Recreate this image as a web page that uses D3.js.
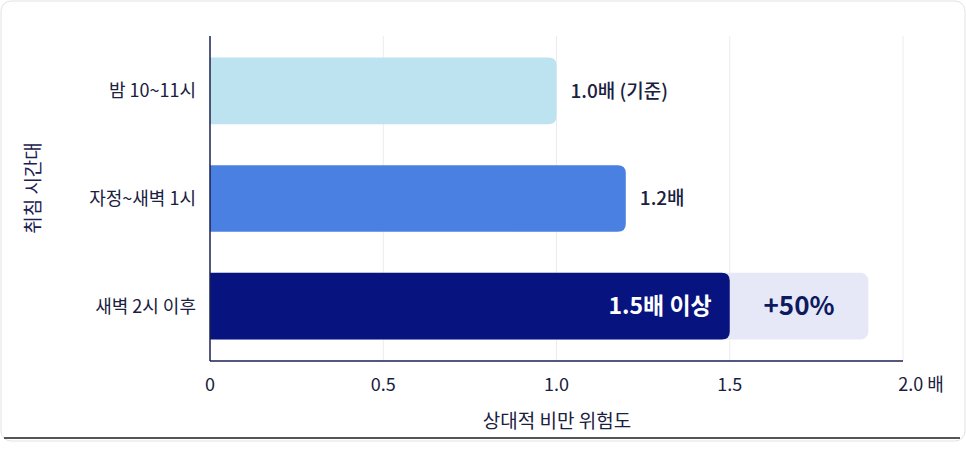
<!DOCTYPE html>
<html><head><meta charset="utf-8">
<script src="https://cdn.jsdelivr.net/npm/d3@7"></script>
<style>body{margin:0;background:#fff;font-family:"Noto Sans CJK KR","Noto Sans",sans-serif;}</style>
</head><body><svg id="c" width="966" height="451"></svg>
<script>
const categories = ["밤 10~11시", "자정~새벽 1시", "새벽 2시 이후"];
const values = [1.0, 1.2, 1.5];
const valueLabels = ["1.0배 (기준)", "1.2배", "1.5배 이상"];
const colors = ["#bde3f0", "#4a80e2", "#07137e"];
const extraValue = 1.9, extraLabel = "+50%";
const ticks = [0, 0.5, 1.0, 1.5, 2.0];

const svg = d3.select("#c");
svg.append("rect").attr("x",1).attr("y",1).attr("width",964).attr("height",440).attr("rx",10)
  .attr("fill","#fff").attr("stroke","#e2e2e2");
svg.append("line").attr("x1",4).attr("x2",960).attr("y1",438).attr("y2",438).attr("stroke","#555").attr("stroke-width",2);

const x = d3.scaleLinear().domain([0,2]).range([210,903]);
const y = d3.scaleBand().domain(categories).range([36,361]).paddingInner(0.38).paddingOuter(0.2);

svg.selectAll(".grid").data(ticks.slice(1)).join("line")
  .attr("x1",d=>x(d)).attr("x2",d=>x(d)).attr("y1",36).attr("y2",361)
  .attr("stroke","#ececf0");

// extra (+50%) bar behind
svg.append("rect").attr("x",x(0)).attr("y",y(categories[2])).attr("width",x(extraValue)-x(0))
  .attr("height",y.bandwidth()).attr("rx",8).attr("fill","#e6e8f8");
svg.append("text").attr("x",(x(1.5)+x(extraValue))/2).attr("y",y(categories[2])+y.bandwidth()/2)
  .attr("dy","0.36em").attr("text-anchor","middle").attr("font-size",26).attr("font-weight",700)
  .attr("fill","#0d1a5e").text(extraLabel);

svg.selectAll(".bar").data(values).join("path")
  .attr("d",(d,i)=>{const x0=x(0),x1=x(d),y0=y(categories[i]),h=y.bandwidth(),r=8;
    return `M${x0},${y0}H${x1-r}Q${x1},${y0} ${x1},${y0+r}V${y0+h-r}Q${x1},${y0+h} ${x1-r},${y0+h}H${x0}Z`;})
  .attr("fill",(d,i)=>colors[i]);

svg.selectAll(".vl").data(values).join("text")
  .attr("x",(d,i)=>i<2?x(d)+14:x(d)-18).attr("y",(d,i)=>y(categories[i])+y.bandwidth()/2)
  .attr("dy","0.36em").attr("text-anchor",(d,i)=>i<2?"start":"end")
  .attr("font-size",(d,i)=>i<2?19:23).attr("font-weight",(d,i)=>i<2?500:700)
  .attr("fill",(d,i)=>i<2?"#1a2040":"#fff").text((d,i)=>valueLabels[i]);

// axes
svg.append("line").attr("x1",x(0)).attr("x2",x(0)).attr("y1",36).attr("y2",361).attr("stroke","#1a2050").attr("stroke-width",1.5);
svg.append("line").attr("x1",x(0)).attr("x2",x(2)).attr("y1",361).attr("y2",361).attr("stroke","#1a2050").attr("stroke-width",1.5);

svg.selectAll(".tl").data(ticks).join("text")
  .attr("x",d=>x(d)).attr("y",391).attr("text-anchor","middle").attr("font-size",18)
  .attr("fill","#1a2040").text(d=>d===0?"0":d===2?"2.0 배":d.toFixed(1))
  .attr("dx",d=>d===2?18:0);

svg.selectAll(".cl").data(categories).join("text")
  .attr("x",196).attr("y",d=>y(d)+y.bandwidth()/2).attr("dy","0.36em").attr("text-anchor","end")
  .attr("font-size",18).attr("fill","#1a2040").text(d=>d);

svg.append("text").attr("x",557).attr("y",428).attr("text-anchor","middle").attr("font-size",19)
  .attr("fill","#1a2040").text("상대적 비만 위험도");
svg.append("text").attr("transform","translate(40,188) rotate(-90)").attr("text-anchor","middle")
  .attr("font-size",19).attr("fill","#1a2050").text("취침 시간대");
</script></body></html>
